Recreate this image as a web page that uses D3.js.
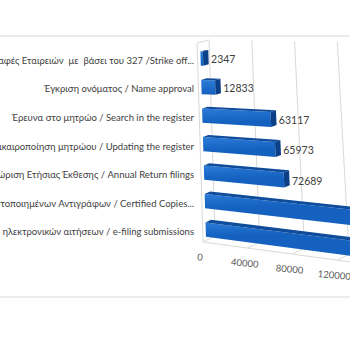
<!DOCTYPE html>
<html>
<head>
<meta charset="utf-8">
<script src="https://cdn.jsdelivr.net/npm/d3@7"></script>
<style>
  html, body { margin: 0; padding: 0; background: #fff; }
  svg { display: block; }
</style>
</head>
<body>
<div id="chart"></div>
<script>
// Registry services handled during the year (3D horizontal bars)
const categories = [
  "Διαγραφές Εταιρειών  με  βάσει του 327 /Strike off...",
  "Έγκριση ονόματος / Name approval",
  "Έρευνα στο μητρώο / Search in the register",
  "Επικαιροποίηση μητρώου / Updating the register",
  "Καταχώριση Ετήσιας Έκθεσης / Annual Return filings",
  "Έκδοση Πιστοποιημένων Αντιγράφων / Certified Copies...",
  "Υποβολή ηλεκτρονικών αιτήσεων / e-filing submissions"
];
const values = [2347, 12833, 63117, 65973, 72689, 152000, 176000];
const valueTicks = [0, 40000, 80000, 120000, 160000];

const W = 350, H = 350;
const svg = d3.select("#chart").append("svg")
  .attr("width", W).attr("height", H)
  .style("overflow", "hidden");

// value axis (length along a bar) and category rows
const xScale = d3.scaleLinear().domain([0, 40000]).range([0, 42.7]);
const rowScale = d3.scaleBand().domain(categories).range([38, 252.5]).padding(0.5);
const bw = rowScale.bandwidth();

const wallTop = 43, floorRow = 242;
const barD0 = 0.25, barD1 = 0.7;

// simple perspective: v = value, r = row position, d = depth (0 front, 1 back)
function P(v, r, d) {
  const k = 1 + (r - 40) * 0.00023;
  const u = xScale(v) * k;
  const s = 0.01 + (r - 40) * 0.00062;
  const x = 197 + (r - 40) * 0.03 + d * 12 + u;
  const y = r - d * (3 + (r - 40) * 0.015) + u * s;
  return [x, y];
}
const line = pts => "M" + pts.map(p => p.join(",")).join("L");
const poly = pts => line(pts) + "Z";

// outer frame rules
svg.append("line").attr("x1", 0).attr("x2", W).attr("y1", 36).attr("y2", 36)
  .attr("stroke", "#d9d9d9").attr("stroke-width", 1);
svg.append("line").attr("x1", 0).attr("x2", W).attr("y1", 297).attr("y2", 297)
  .attr("stroke", "#d9d9d9").attr("stroke-width", 1);

const grid = svg.append("g").attr("fill", "none").attr("stroke", "#d9d9d9").attr("stroke-width", 1);
const vMax = 200000;
// back wall and floor gridlines
valueTicks.forEach(v => {
  grid.append("path").attr("d", line([P(v, wallTop, 1), P(v, floorRow, 1)]));
  grid.append("path").attr("d", line([P(v, floorRow, 0), P(v, floorRow, 1)]));
});
// side wall edges
grid.append("path").attr("d", line([P(0, floorRow, 0), P(0, wallTop, 0), P(0, wallTop, 1)]));
// floor edges
grid.append("path").attr("d", line([P(0, floorRow, 0), P(vMax, floorRow, 0)]));
grid.append("path").attr("d", line([P(0, floorRow, 1), P(vMax, floorRow, 1)]));

// bars
const defs = svg.append("defs");
const bars = svg.append("g");
categories.forEach((c, i) => {
  const v = values[i];
  const r0 = rowScale(c), r1 = r0 + bw;
  const g = bars.append("g");
  const grad = "g" + i;
  const a = P(0, r0, barD0), b = P(0, r1, barD0);
  const lg = defs.append("linearGradient").attr("id", grad)
    .attr("gradientUnits", "userSpaceOnUse")
    .attr("x1", a[0]).attr("y1", a[1]).attr("x2", b[0]).attr("y2", b[1]);
  lg.append("stop").attr("offset", 0).attr("stop-color", "#2b7bd8");
  lg.append("stop").attr("offset", 1).attr("stop-color", "#1461c0");
  // front face
  g.append("path").attr("d", poly([P(0, r0, barD0), P(v, r0, barD0), P(v, r1, barD0), P(0, r1, barD0)]))
    .attr("fill", `url(#${grad})`);
  // top face
  g.append("path").attr("d", poly([P(0, r0, barD0), P(v, r0, barD0), P(v, r0, barD1), P(0, r0, barD1)]))
    .attr("fill", "#0f4c9c");
  // end face
  g.append("path").attr("d", poly([P(v, r0, barD0), P(v, r0, barD1), P(v, r1, barD1), P(v, r1, barD0)]))
    .attr("fill", "#0b3f87");
  // value label
  const p = P(v, r0 + bw / 2, barD0);
  svg.append("text")
    .attr("x", p[0] + 8).attr("y", p[1] + 2)
    .attr("dominant-baseline", "middle")
    .attr("font-family", "Lato, 'Noto Sans', sans-serif")
    .attr("font-size", 10.5).attr("fill", "#404040")
    .text(v);
});

// category labels
svg.append("g").selectAll("text").data(categories).join("text")
  .attr("x", 194)
  .attr("y", c => rowScale(c) + bw / 2 + 2)
  .attr("text-anchor", "end")
  .attr("dominant-baseline", "middle")
  .attr("font-family", "Lato, 'Noto Sans', sans-serif")
  .attr("font-size", 9.5).attr("fill", "#404040")
  .style("white-space", "pre")
  .text(c => c);

// value axis tick labels along the front floor edge
svg.append("g").selectAll("text").data(valueTicks).join("text")
  .attr("transform", v => {
    const p = P(v, floorRow, 0);
    return `translate(${p[0] - 3},${p[1] + 16}) rotate(5)`;
  })
  .attr("text-anchor", "middle")
  .attr("dominant-baseline", "middle")
  .attr("font-family", "Lato, 'Noto Sans', sans-serif")
  .attr("font-size", 9.5).attr("fill", "#595959")
  .text(v => v);
</script>
</body>
</html>
